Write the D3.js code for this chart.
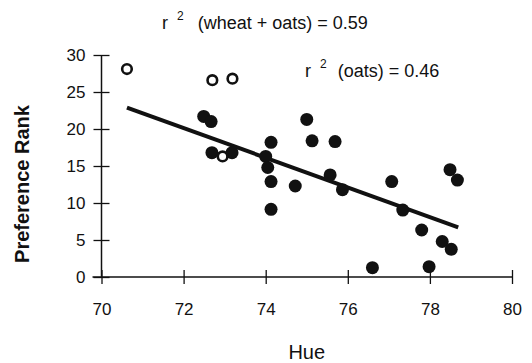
<!DOCTYPE html>
<html>
<head>
<meta charset="utf-8">
<script src="https://cdn.jsdelivr.net/npm/d3@7"></script>
<style>
  body { margin: 0; background: #fff; }
  svg { display: block; font-family: "Liberation Sans", Arial, sans-serif; }
</style>
</head>
<body>
<div id="chart"></div>
<script>
// oats (filled) and wheat (hollow) samples, hue vs preference rank
const oatsHue = [72.49, 72.67, 72.69, 73.18, 74.0, 74.05, 74.13, 74.13, 74.13, 74.72, 75.0, 75.13,
  75.57, 75.69, 75.87, 76.6, 77.07, 77.34, 77.8, 77.98, 78.3, 78.49, 78.52, 78.67];
const oatsRank = [21.7, 21.0, 16.8, 16.8, 16.3, 14.8, 18.2, 12.9, 9.15, 12.3, 21.3, 18.4,
  13.8, 18.3, 11.8, 1.26, 12.9, 9.05, 6.35, 1.4, 4.8, 14.5, 3.74, 13.1];
const wheatHue = [70.62, 72.7, 73.19, 72.95];
const wheatRank = [28.1, 26.6, 26.8, 16.3];
// fitted line end points
const fitHue = [70.62, 78.69];
const fitRank = [22.9, 6.7];
const xTicks = [70, 72, 74, 76, 78, 80];
const yTicks = [0, 5, 10, 15, 20, 25, 30];

const width = 532, height = 363;
const ink = '#111';

const svg = d3.select('#chart').append('svg')
  .attr('width', width)
  .attr('height', height);

const x = d3.scaleLinear().domain([70, 80]).range([101.5, 512]);
const y = d3.scaleLinear().domain([0, 30]).range([277, 55]);

// axes
const xAxis = svg.append('g')
  .attr('transform', 'translate(0,' + y(0) + ')')
  .call(d3.axisBottom(x).tickValues(xTicks).tickSize(7).tickPadding(19).tickFormat(d3.format('d')));
xAxis.select('.domain').remove();
xAxis.selectAll('.tick line').attr('y1', -7).attr('y2', 7).attr('stroke', ink).attr('stroke-width', 1.3);
xAxis.selectAll('.tick text').attr('font-size', 17).attr('fill', ink).attr('font-family', null);

const yAxis = svg.append('g')
  .attr('transform', 'translate(' + x(70) + ',0)')
  .call(d3.axisLeft(y).tickValues(yTicks).tickSize(8).tickPadding(8));
yAxis.select('.domain').remove();
yAxis.selectAll('.tick line').attr('x1', -8).attr('x2', 8).attr('stroke', ink).attr('stroke-width', 1.3);
yAxis.selectAll('.tick text').attr('font-size', 17).attr('fill', ink).attr('font-family', null);

svg.append('line')
  .attr('x1', x(70) - 9).attr('x2', x(80))
  .attr('y1', y(0)).attr('y2', y(0))
  .attr('stroke', ink).attr('stroke-width', 1.5);
svg.append('line')
  .attr('x1', x(70)).attr('x2', x(70))
  .attr('y1', y(0)).attr('y2', y(30))
  .attr('stroke', ink).attr('stroke-width', 1.5);

// regression line
svg.append('line')
  .attr('x1', x(fitHue[0])).attr('y1', y(fitRank[0]))
  .attr('x2', x(fitHue[1])).attr('y2', y(fitRank[1]))
  .attr('stroke', ink).attr('stroke-width', 4);

// points
svg.append('g').selectAll('circle')
  .data(oatsHue)
  .join('circle')
  .attr('cx', d => x(d))
  .attr('cy', (d, i) => y(oatsRank[i]))
  .attr('r', 6.5)
  .attr('fill', ink);

svg.append('g').selectAll('circle')
  .data(wheatHue)
  .join('circle')
  .attr('cx', d => x(d))
  .attr('cy', (d, i) => y(wheatRank[i]))
  .attr('r', 4.8)
  .attr('fill', '#fff')
  .attr('stroke', ink)
  .attr('stroke-width', 2.6);

// r-squared notes
function rsq(xPos, yPos, gap, label) {
  const t = svg.append('text')
    .attr('x', xPos).attr('y', yPos)
    .attr('font-size', 18).attr('fill', ink);
  t.append('tspan').text('r');
  t.append('tspan').attr('dx', 9).attr('dy', -9).attr('font-size', 12).text('2');
  t.append('tspan').attr('dx', gap).attr('dy', 9).text(label);
}
rsq(162, 29, 14, '(wheat + oats) = 0.59');
rsq(305, 77, 11, '(oats) = 0.46');

// axis titles
svg.append('text')
  .attr('x', x(75)).attr('y', 359)
  .attr('text-anchor', 'middle')
  .attr('font-size', 20).attr('fill', ink)
  .text('Hue');

svg.append('text')
  .attr('transform', 'translate(29,184) rotate(-90)')
  .attr('text-anchor', 'middle')
  .attr('font-size', 20).attr('font-weight', 'bold').attr('fill', ink)
  .text('Preference Rank');
</script>
</body>
</html>
